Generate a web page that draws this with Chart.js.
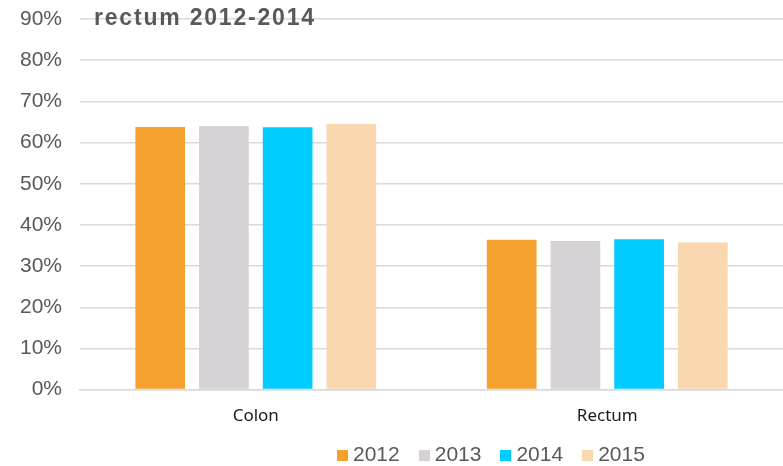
<!DOCTYPE html>
<html lang="en">
<head>
  <meta charset="UTF-8">
  <title>rectum 2012-2014</title>
  <style>
    body {
      margin: 0;
      background: #ffffff;
      font-family: "Liberation Sans", Arial, sans-serif;
    }
    #wrap {
      position: relative;
      width: 783px;
      height: 466px;
    }
    #title {
      position: absolute;
      left: 94px;
      top: 4px;
      font-size: 23px;
      font-weight: bold;
      letter-spacing: 1.8px;
      color: #595959;
    }
    #legend {
      position: absolute;
      left: 337px;
      top: 442px;
      font-size: 21px;
      color: #595959;
      white-space: nowrap;
    }
    #legend span.item {
      margin-right: 19px;
    }
    #legend span.box {
      display: inline-block;
      width: 11px;
      height: 11px;
      margin-right: 5px;
    }
  </style>
  <script src="https://cdn.jsdelivr.net/npm/chart.js"></script>
</head>
<body>
  <div id="wrap">
    <canvas id="chart"></canvas>
    <div id="title">rectum 2012-2014</div>
    <div id="legend"></div>
  </div>
  <script>
    const categories = ['Colon', 'Rectum'];
    const years = ['2012', '2013', '2014', '2015'];
    const colors = ['#F4A12F', '#D6D2D5', '#00CCFF', '#F9D8B0'];
    const values2012 = [63.8, 36.4];
    const values2013 = [64.0, 36.1];
    const values2014 = [63.7, 36.5];
    const values2015 = [64.5, 35.7];
    const allValues = [values2012, values2013, values2014, values2015];

    const datasets = years.map((y, i) => ({
      label: y,
      data: allValues[i],
      backgroundColor: colors[i],
      borderWidth: 0,
      categoryPercentage: 0.725,
      barPercentage: 0.78
    }));

    new Chart(document.getElementById('chart'), {
      type: 'bar',
      data: { labels: categories, datasets: datasets },
      options: {
        responsive: true,
        maintainAspectRatio: false,
        animation: false,
        layout: { padding: { top: 18, left: 2, right: 0, bottom: 32 } },
        plugins: {
          legend: { display: false },
          tooltip: { enabled: false }
        },
        scales: {
          x: {
            grid: { display: false },
            border: { color: '#D9D9D9', width: 1.5 },
            ticks: {
              color: '#1a1a1a',
              padding: 8,
              font: { family: "'Noto Sans', sans-serif", size: 17 }
            }
          },
          y: {
            min: 0,
            max: 90,
            ticks: {
              stepSize: 10,
              padding: 18,
              color: '#595959',
              font: { family: "'Liberation Sans', Arial, sans-serif", size: 21, lineHeight: 0.1 },
              callback: v => v + '%'
            },
            grid: { color: '#D9D9D9', lineWidth: 1.5, drawTicks: false },
            border: { display: false }
          }
        }
      }
    });

    // legend under the chart
    const legend = document.getElementById('legend');
    years.forEach((y, i) => {
      const item = document.createElement('span');
      item.className = 'item';
      item.innerHTML = '<span class="box" style="background:' + colors[i] + '"></span>' + y;
      legend.appendChild(item);
    });
  </script>
</body>
</html>
